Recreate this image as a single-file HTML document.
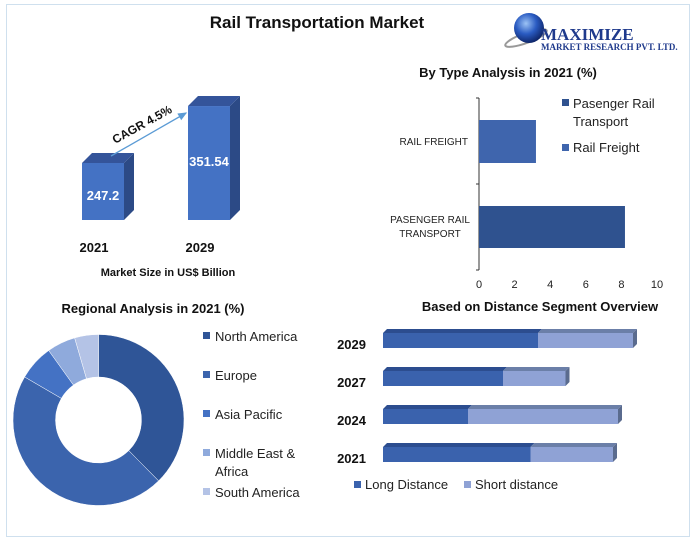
<!DOCTYPE html>
<html><head><meta charset="utf-8">
<style>
body{margin:0;background:#fff;font-family:"Liberation Sans",sans-serif;}
#wrap{position:relative;width:695px;height:541px;overflow:hidden;background:#fff;}
#frame{position:absolute;left:6px;top:4px;width:682px;height:531px;border:1px solid #cfe0ee;}
</style></head>
<body>
<div id="wrap">
<div id="frame"></div>
<svg width="695" height="541" style="position:absolute;left:0;top:0" id="svg">
<defs>
<radialGradient id="globe" cx="0.4" cy="0.35" r="0.7"><stop offset="0" stop-color="#9cc3f5"/><stop offset="0.5" stop-color="#2a5bc2"/><stop offset="1" stop-color="#0b1f5e"/></radialGradient>
<marker id="arr" markerWidth="8" markerHeight="8" refX="6" refY="3" orient="auto"><path d="M0,0 L7,3 L0,6 z" fill="#5b9bd5"/></marker>
</defs>
<text x="317" y="28" text-anchor="middle" font-size="17" font-weight="bold" fill="#111">Rail Transportation Market</text>
<g>
<ellipse cx="526" cy="38" rx="22" ry="5" fill="none" stroke="#999" stroke-width="2" transform="rotate(-20 526 38)"/>
<circle cx="529" cy="28" r="15" fill="url(#globe)"/>
<text x="541" y="40" font-family="Liberation Serif,serif" font-weight="bold" font-size="17" fill="#1f3a8c">MAXIMIZE</text>
<text x="541" y="50" font-family="Liberation Serif,serif" font-weight="bold" font-size="9" fill="#1f3a8c">MARKET RESEARCH PVT. LTD.</text>
</g>
<g id="g-size"></g>
<text x="168" y="276" text-anchor="middle" font-size="11" font-weight="bold" fill="#111">Market Size in US$ Billion</text>
<g id="g-type"></g>
<text x="508" y="77" text-anchor="middle" font-size="13" font-weight="bold" fill="#111">By Type Analysis in 2021 (%)</text>
<g id="g-region"></g>
<text x="153" y="313" text-anchor="middle" font-size="13" font-weight="bold" fill="#111">Regional Analysis in 2021 (%)</text>
<g id="g-dist"></g>
<text x="540" y="311" text-anchor="middle" font-size="13" font-weight="bold" fill="#111">Based on Distance Segment Overview</text>
</svg>
</div>
<script>
const sizeYears=["2021","2029"];
const sizeValues=[247.2,351.54];
const typeCats=["RAIL FREIGHT","PASENGER RAIL TRANSPORT"];
const typeValues=[3.2,8.2];
const typeTicks=[0,2,4,6,8,10];
const regionNames=["North America","Europe","Asia Pacific","Middle East & Africa","South America"];
const regionValues=[37.6,45.8,6.7,5.4,4.5];
const distYears=["2029","2027","2024","2021"];
const longValues=[6.2,4.8,3.4,5.9];
const shortValues=[3.8,2.5,6.0,3.3];

const NS="http://www.w3.org/2000/svg";
function mk(parent,tag,attrs,text){const e=document.createElementNS(NS,tag);for(const k in attrs)e.setAttribute(k,attrs[k]);if(text!==undefined)e.textContent=text;parent.appendChild(e);return e;}

// market size 3D bars
(function(){
 const g=document.getElementById('g-size');
 const base=220, yS=v=>base-(57+(v-247.2)*0.546);
 const xs=[82,188], w=42, d=10;
 sizeValues.forEach((v,i)=>{
  const x=xs[i], y=yS(v);
  let r=mk(g,'polygon',{points:`${x+w},${y} ${x+w+d},${y-d} ${x+w+d},${base-d} ${x+w},${base}`,fill:'#2c4a86'});
  
  r=mk(g,'polygon',{points:`${x},${y} ${x+d},${y-d} ${x+w+d},${y-d} ${x+w},${y}`,fill:'#34549a'});
  
  r=mk(g,'rect',{x:x,y:y,width:w,height:base-y,fill:'#4472c4'});
  
  r=mk(g,'text',{x:x+w/2,y:i==0?200:166,'text-anchor':'middle','font-size':13,'font-weight':'bold',fill:'#fff'},String(v));
  
  r=mk(g,'text',{x:x+12,y:252,'text-anchor':'middle','font-size':13,'font-weight':'bold',fill:'#111'},sizeYears[i]);
  
 });
 let a=mk(g,'line',{x1:111,y1:156,x2:186,y2:113,stroke:'#5b9bd5','stroke-width':1.3,'marker-end':'url(#arr)'});
 
 a=mk(g,'text',{x:144,y:128,'text-anchor':'middle','font-size':12,'font-weight':'bold',fill:'#111',transform:'rotate(-29 144 128)'},'CAGR 4.5%');
 
})();

// type chart
(function(){
 const g=document.getElementById('g-type');
 const x0=479,x1=657,xS=v=>x0+(v/10)*(x1-x0);
 const ys=[[120,163],[206,248]], cols=['#3f65ad','#2f528f'];
 let l=mk(g,'line',{x1:x0,y1:98,x2:x0,y2:270,stroke:'#333','stroke-width':1});
 
 [98,184,270].forEach(y=>{mk(g,'line',{x1:x0-3,y1:y,x2:x0,y2:y,stroke:'#333'});});
 typeValues.forEach((v,i)=>{
  const r=mk(g,'rect',{x:x0,y:ys[i][0],width:xS(v)-x0,height:ys[i][1]-ys[i][0],fill:cols[i]});
  
 });
 let t=mk(g,'text',{x:468,y:145,'text-anchor':'end','font-size':10,fill:'#222'},typeCats[0]);
 
 t=mk(g,'text',{x:468,y:223,'text-anchor':'end','font-size':10,fill:'#222'});
 
 mk(t,'tspan',{x:430,'text-anchor':'middle'},'PASENGER RAIL');
 mk(t,'tspan',{x:430,dy:14,'text-anchor':'middle'},'TRANSPORT');
 typeTicks.forEach(v=>{const e=mk(g,'text',{x:xS(v),y:288,'text-anchor':'middle','font-size':11,fill:'#222'},String(v));
  });
 let r=mk(g,'rect',{x:562,y:99,width:7,height:7,fill:'#2f528f'});
 t=mk(g,'text',{x:573,y:108,'font-size':13,fill:'#222'},'Pasenger Rail');
 mk(g,'text',{x:573,y:126,'font-size':13,fill:'#222'},'Transport');
 r=mk(g,'rect',{x:562,y:144,width:7,height:7,fill:'#3f65ad'});
 t=mk(g,'text',{x:573,y:152,'font-size':13,fill:'#222'},'Rail Freight');
})();

// donut
(function(){
 const g=document.getElementById('g-region');
 const cx=98.5,cy=420,R=85.5,r0=43;
 const cols=['#2f5597','#3b64ad','#4472c4','#8faadc','#b4c3e6'];
 const tot=regionValues.reduce((a,b)=>a+b,0);
 let a=0;
 const p=(ang,rr)=>[cx+rr*Math.sin(ang),cy-rr*Math.cos(ang)];
 regionValues.forEach((v,i)=>{
  const a1=a+v/tot*2*Math.PI, lg=(a1-a)>Math.PI?1:0;
  const [x1,y1]=p(a,R),[x2,y2]=p(a1,R),[x3,y3]=p(a1,r0),[x4,y4]=p(a,r0);
  const s=mk(g,'path',{d:`M${x1},${y1} A${R},${R} 0 ${lg} 1 ${x2},${y2} L${x3},${y3} A${r0},${r0} 0 ${lg} 0 ${x4},${y4} Z`,fill:cols[i],stroke:'#fff','stroke-width':0.5});
  
  a=a1;
 });
 const ly=[341,380,419,458,497];
 regionNames.forEach((n,i)=>{
  const r=mk(g,'rect',{x:203,y:ly[i]-9,width:7,height:7,fill:cols[i]});
  
  let t;
  if(i==3){t=mk(g,'text',{x:215,y:ly[i],'font-size':13,fill:'#222'},'Middle East &');mk(g,'text',{x:215,y:ly[i]+18,'font-size':13,fill:'#222'},'Africa');}
  else t=mk(g,'text',{x:215,y:ly[i],'font-size':13,fill:'#222'},n);
  
 });
})();

// distance chart
(function(){
 const g=document.getElementById('g-dist');
 const x0=383,k=25,xS=v=>x0+v*k;
 const tops=[333,371,409,447],h=15,d=4;
 distYears.forEach((yr,i)=>{
  const y=tops[i], xm=xS(longValues[i]), xe=xS(longValues[i]+shortValues[i]);
  mk(g,'polygon',{points:`${x0},${y} ${x0+d},${y-d} ${xm+d},${y-d} ${xm},${y}`,fill:'#2c4d8f'});
  mk(g,'polygon',{points:`${xm},${y} ${xm+d},${y-d} ${xe+d},${y-d} ${xe},${y}`,fill:'#6b7fa8'});
  mk(g,'polygon',{points:`${xe},${y} ${xe+d},${y-d} ${xe+d},${y+h-d} ${xe},${y+h}`,fill:'#5a6b8e'});
  let r=mk(g,'rect',{x:x0,y:y,width:xm-x0,height:h,fill:'#3a62ad'});
  
  r=mk(g,'rect',{x:xm,y:y,width:xe-xm,height:h,fill:'#8fa2d5'});
  
  const t=mk(g,'text',{x:366,y:y+16,'text-anchor':'end','font-size':13,'font-weight':'bold',fill:'#111'},yr);
  
 });
 let r=mk(g,'rect',{x:354,y:481,width:7,height:7,fill:'#3a62ad'});
 let t=mk(g,'text',{x:365,y:489,'font-size':13,fill:'#222'},'Long Distance');
 r=mk(g,'rect',{x:464,y:481,width:7,height:7,fill:'#8fa2d5'});
 t=mk(g,'text',{x:475,y:489,'font-size':13,fill:'#222'},'Short distance');
})();
</script>
</body></html>
